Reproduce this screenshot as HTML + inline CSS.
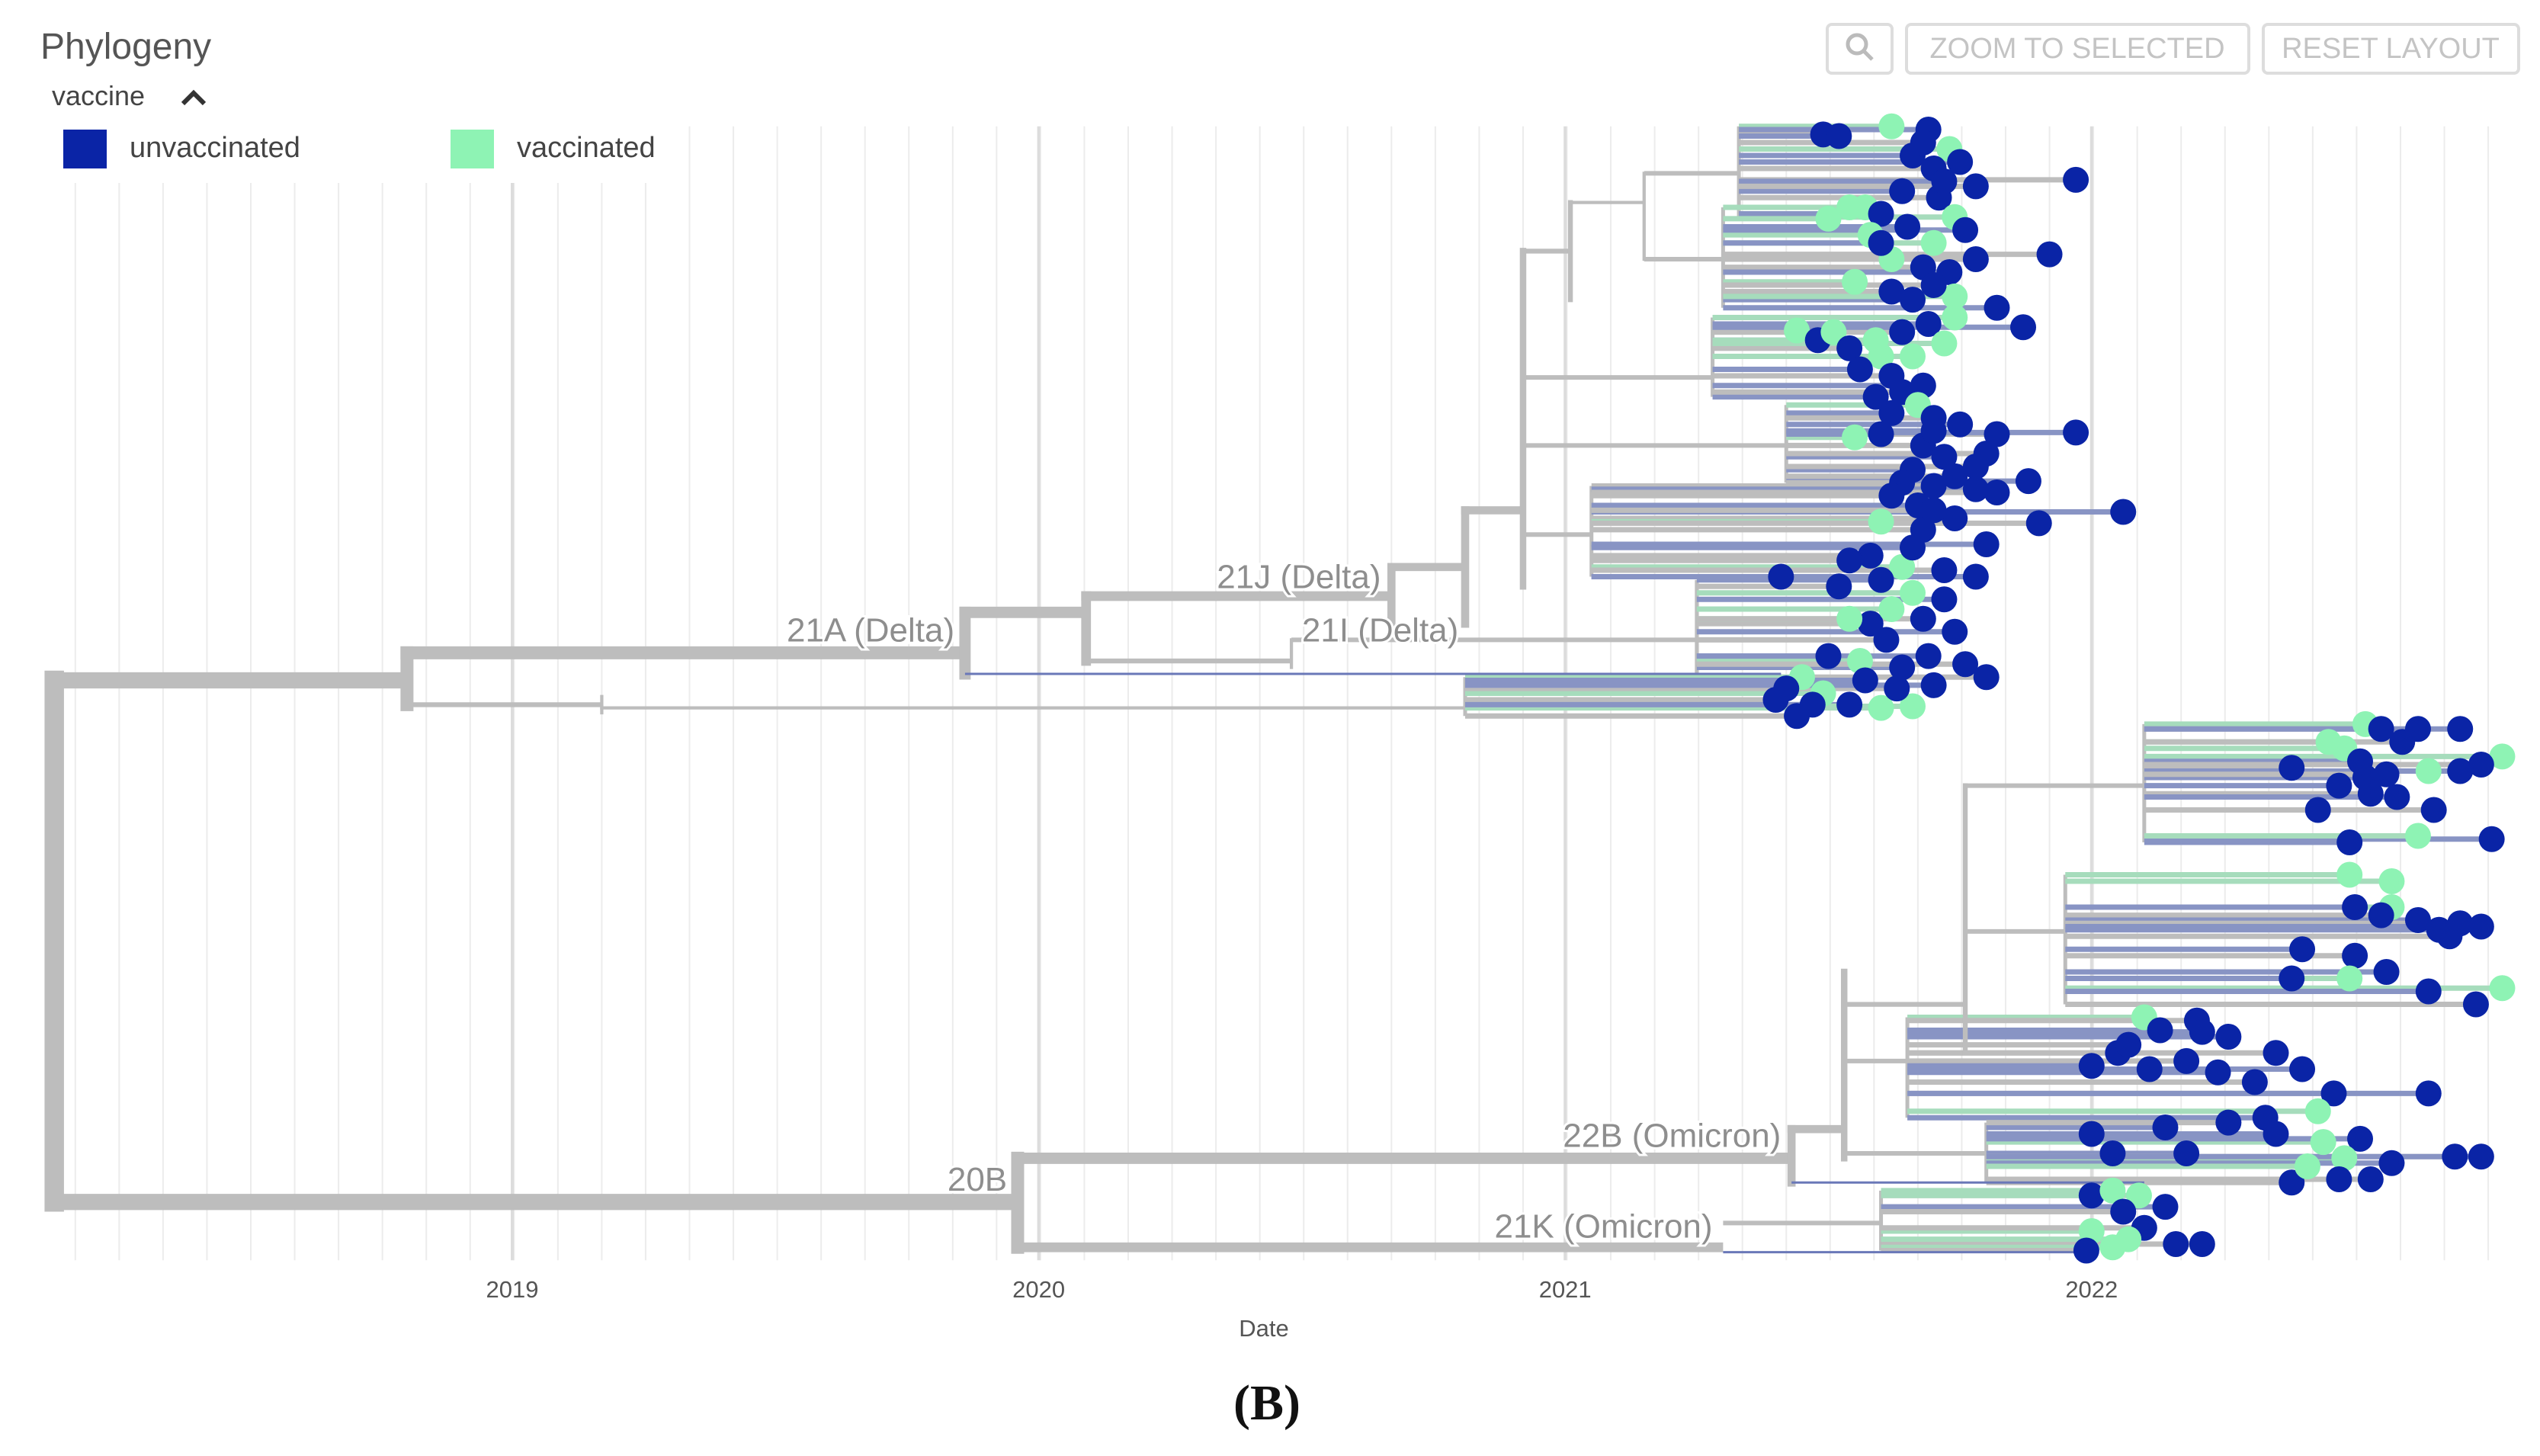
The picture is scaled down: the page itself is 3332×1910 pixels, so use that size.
<!DOCTYPE html>
<html><head><meta charset="utf-8"><style>
html,body{margin:0;padding:0;background:#fff;}
svg{display:block;font-family:"Liberation Sans",sans-serif;}
</style></head><body>
<svg id="chart" width="3332" height="1910" viewBox="0 0 3332 1910" xmlns="http://www.w3.org/2000/svg">
<g id="grid"></g>
<g id="tree"></g>
<g id="tips"></g>
<g id="labels"></g>
<g id="axis"></g>
<text x="1658" y="1753" font-size="31" fill="#555" text-anchor="middle">Date</text>
<text x="1662" y="1862" font-size="66" font-weight="bold" fill="#111" text-anchor="middle" font-family="Liberation Serif,serif">(B)</text>
<rect x="0" y="100" width="900" height="140" fill="#fff"/>
<text x="53" y="77" font-size="48" fill="#555">Phylogeny</text>
<text x="68" y="138" font-size="36" fill="#444">vaccine</text>
<path d="M240 136 L254 122 L268 136" stroke="#333" stroke-width="6" fill="none"/>
<rect x="83" y="170" width="57" height="51" fill="#0a24a6"/>
<text x="170" y="206" font-size="38" fill="#444">unvaccinated</text>
<rect x="591" y="170" width="57" height="51" fill="#8ef3b4"/>
<text x="678" y="206" font-size="38" fill="#444">vaccinated</text>
<rect x="2397" y="32" width="85" height="64" rx="6" fill="#fff" stroke="#ddd" stroke-width="4"/>
<circle cx="2436" cy="58" r="12" fill="none" stroke="#bbb" stroke-width="5"/>
<line x1="2445" y1="67" x2="2456" y2="78" stroke="#bbb" stroke-width="5"/>
<rect x="2501" y="32" width="449" height="64" rx="6" fill="#fff" stroke="#ddd" stroke-width="4"/>
<text x="2725" y="76" font-size="38" fill="#c4c4c4" text-anchor="middle">ZOOM TO SELECTED</text>
<rect x="2969" y="32" width="335" height="64" rx="6" fill="#fff" stroke="#ddd" stroke-width="4"/>
<text x="3136" y="76" font-size="38" fill="#c4c4c4" text-anchor="middle">RESET LAYOUT</text>
</svg>
<script>
// ---- data ----
const yearTicks = [2019, 2020, 2021, 2022];
const tickLabels = ["2019", "2020", "2021", "2022"];
const monthStart = 2018.17, monthEnd = 2022.80;
// backbone horizontals: [fromDate, toDate, y, width]
const backboneH = [
 [2018.13,2018.80,420,10],[2018.80,2019.86,403,8],[2019.86,2020.09,378,7],[2020.09,2020.67,368,6],
 [2020.67,2020.81,350,5],[2020.81,2020.92,315,5],[2020.92,2021.01,155,3],[2021.01,2021.15,125,2],
 [2020.09,2020.48,408,3],[2018.80,2019.17,435,3],[2019.17,2020.81,437,2],
 [2018.13,2019.96,742,10],[2019.96,2021.43,715,7],[2021.43,2021.53,697,5],[2021.53,2021.76,620,3],
 [2019.96,2021.30,770,6]
];
// backbone verticals: [date, y1, y2, width]
const backboneV = [
 [2018.13,420,742,12],[2018.80,403,435,8],[2019.86,378,416,7],[2020.09,368,408,6],[2020.67,350,386,5],
 [2020.81,315,385,5],[2020.92,155,362,4],[2021.01,125,185,3],[2021.15,107,160,2],[2020.48,395,412,2],
 [2019.17,430,440,2],[2019.96,715,770,8],[2021.43,697,730,5],[2021.53,600,715,4],[2021.76,485,650,3]
];
// thin coloured stems: [fromDate, toDate, y]
const thinStems = [[2019.86,2021.41,416],[2021.30,2021.99,773],[2021.43,2022.10,730]];
// clade groups: parent date, node date, attach y
const groupParent = [2021.15,2021.15,2020.92,2020.92,2020.92,2020.48,2020.81,2021.76,2021.76,2021.53,2021.53,2021.30];
const groupNode   = [2021.33,2021.30,2021.28,2021.42,2021.05,2021.25,2020.81,2022.10,2021.95,2021.65,2021.80,2021.60];
const groupAttach = [107,160,233,275,330,395,432,485,575,655,712,755];
// tips per group: [date, y, vaccinated]
const groupTips = [
 [[2021.49,83,0],[2021.52,84,0],[2021.62,78,1],[2021.69,80,0],[2021.73,92,1],[2021.66,96,0],[2021.70,104,0],[2021.75,100,0],[2021.97,111,0],[2021.64,118,0],[2021.71,122,0],[2021.57,128,1],[2021.74,134,1],[2021.60,132,0],[2021.68,88,0],[2021.72,112,0],[2021.78,115,0]],
 [[2021.50,135,1],[2021.54,128,1],[2021.58,145,1],[2021.65,140,0],[2021.70,150,1],[2021.76,142,0],[2021.92,157,0],[2021.62,160,1],[2021.68,165,0],[2021.73,168,0],[2021.78,160,0],[2021.55,174,1],[2021.62,180,0],[2021.66,185,0],[2021.74,183,1],[2021.82,190,0],[2021.70,176,0],[2021.60,150,0]],
 [[2021.44,204,1],[2021.48,210,0],[2021.51,205,1],[2021.59,210,1],[2021.64,205,0],[2021.69,200,0],[2021.74,196,1],[2021.87,202,0],[2021.54,215,0],[2021.60,220,1],[2021.66,220,1],[2021.56,228,0],[2021.62,232,0],[2021.68,238,0],[2021.72,212,1],[2021.59,245,0],[2021.64,242,0]],
 [[2021.67,250,1],[2021.62,255,0],[2021.70,258,0],[2021.75,262,0],[2021.82,268,0],[2021.97,267,0],[2021.55,270,1],[2021.60,268,0],[2021.68,275,0],[2021.72,282,0],[2021.80,280,0],[2021.66,290,0],[2021.78,288,0],[2021.88,297,0],[2021.64,298,0],[2021.70,266,0],[2021.74,294,0]],
 [[2021.70,300,0],[2021.78,302,0],[2021.82,304,0],[2022.06,316,0],[2021.62,306,0],[2021.67,312,0],[2021.74,320,0],[2021.60,322,1],[2021.68,327,0],[2021.80,336,0],[2021.58,343,0],[2021.64,350,1],[2021.72,352,0],[2021.41,356,0],[2021.54,346,0],[2021.78,356,0],[2021.90,323,0],[2021.66,338,0],[2021.70,315,0]],
 [[2021.52,362,0],[2021.60,358,0],[2021.66,366,1],[2021.72,370,0],[2021.58,385,0],[2021.54,382,1],[2021.68,382,0],[2021.74,390,0],[2021.61,395,0],[2021.69,405,0],[2021.80,418,0],[2021.64,412,0],[2021.56,408,1],[2021.50,405,0],[2021.76,410,0],[2021.62,376,1]],
 [[2021.45,418,1],[2021.42,425,0],[2021.49,428,1],[2021.54,435,0],[2021.60,437,1],[2021.66,436,1],[2021.44,442,0],[2021.57,420,0],[2021.63,425,0],[2021.70,423,0],[2021.40,432,0],[2021.47,435,0]],
 [[2022.52,447,1],[2022.55,450,0],[2022.62,450,0],[2022.70,450,0],[2022.45,458,1],[2022.48,462,1],[2022.59,458,0],[2022.78,467,1],[2022.38,474,0],[2022.51,470,0],[2022.64,476,1],[2022.70,476,0],[2022.74,472,0],[2022.47,485,0],[2022.53,490,0],[2022.58,492,0],[2022.65,500,0],[2022.76,518,0],[2022.62,516,1],[2022.49,520,0],[2022.43,500,0],[2022.52,480,0],[2022.56,478,0]],
 [[2022.49,540,1],[2022.57,544,1],[2022.57,560,1],[2022.50,560,0],[2022.55,565,0],[2022.62,568,0],[2022.70,570,0],[2022.74,572,0],[2022.68,578,0],[2022.40,586,0],[2022.50,590,0],[2022.56,600,0],[2022.78,610,1],[2022.64,612,0],[2022.49,604,1],[2022.38,604,0],[2022.73,620,0],[2022.66,574,0]],
 [[2022.10,628,1],[2022.13,636,0],[2022.20,630,0],[2022.26,640,0],[2022.05,650,0],[2022.11,660,0],[2022.18,655,0],[2022.24,662,0],[2022.35,650,0],[2022.00,658,0],[2022.31,668,0],[2022.40,660,0],[2022.46,675,0],[2022.64,675,0],[2022.43,686,1],[2022.33,690,0],[2022.07,645,0],[2022.21,637,0]],
 [[2022.00,700,0],[2022.14,696,0],[2022.26,693,0],[2022.35,700,0],[2022.44,705,1],[2022.51,703,0],[2022.04,712,0],[2022.18,712,0],[2022.48,715,1],[2022.57,718,0],[2022.69,714,0],[2022.74,714,0],[2022.38,730,0],[2022.47,728,0],[2022.53,728,0],[2022.41,720,1]],
 [[2022.00,738,0],[2022.04,735,1],[2022.09,738,1],[2022.14,745,0],[2022.06,748,0],[2022.00,760,1],[2022.10,758,0],[2022.16,768,0],[2022.21,768,0],[2022.04,770,1],[2021.99,772,0],[2022.07,765,1]]
];
// clade labels: text, date (anchor), y, anchor
const cladeNames = ["21A (Delta)","21J (Delta)","21I (Delta)","20B","22B (Omicron)","21K (Omicron)"];
const cladeDates = [2019.84,2020.65,2020.50,2019.94,2021.41,2021.28];
const cladeY = [396,363,396,735,708,764];
const cladeAnchor = ["end","end","start","end","end","end"];

// ---- scales ----
const S = 2.125;
const X = d => 672 + (d - 2019) * 690.6;
const Y = v => v * S;
const NS = "http://www.w3.org/2000/svg";
function mk(tag, parent, attrs){const e=document.createElementNS(NS,tag);for(const k in attrs)e.setAttribute(k,attrs[k]);parent.appendChild(e);return e;}
const grid=document.getElementById('grid'),tree=document.getElementById('tree'),tips=document.getElementById('tips'),labels=document.getElementById('labels'),axis=document.getElementById('axis');

// grid
for(let m=0;;m++){const d=monthStart+m/12;if(d>monthEnd+1e-6)break;
 const l=mk('line',grid,{x1:X(d),x2:X(d),y1:Y(78),y2:Y(778),stroke:'#ececec','stroke-width':2});
 
 }
yearTicks.forEach((yr,i)=>{
 const l=mk('line',grid,{x1:X(yr),x2:X(yr),y1:Y(78),y2:Y(778),stroke:'#dcdcdc','stroke-width':4});
 
 
 const t=mk('text',axis,{x:X(yr),y:1702,'font-size':31,fill:'#555','text-anchor':'middle'});t.textContent=tickLabels[i];
 
 
});

const G='#bdbdbd';
// groups
groupTips.forEach((list,gi)=>{
 const p=groupParent[gi],n=groupNode[gi],a=groupAttach[gi];
 const ys=list.map(t=>t[1]);const y1=Math.min(...ys,a),y2=Math.max(...ys,a);
 const h=mk('line',tree,{x1:X(p),x2:X(n),y1:Y(a),y2:Y(a),stroke:G,'stroke-width':6});
 
 
 const v=mk('line',tree,{x1:X(n),x2:X(n),y1:Y(y1),y2:Y(y2),stroke:G,'stroke-width':5});
 
 
 list.forEach((t,ti)=>{
  const col=t[2]?'#a6dcbc':(ti%2?'#8894c4':G);
  const b=mk('line',tree,{x1:X(n),x2:X(t[0]),y1:Y(t[1]),y2:Y(t[1]),stroke:col,'stroke-width':7});
  
  
 });
});
backboneH.forEach(b=>{const l=mk('line',tree,{x1:X(b[0])-b[3]*S/2,x2:X(b[1]),y1:Y(b[2]),y2:Y(b[2]),stroke:G,'stroke-width':b[3]*S});
 
 });
backboneV.forEach(b=>{const l=mk('line',tree,{x1:X(b[0]),x2:X(b[0]),y1:Y(b[1])-b[3]*S/2,y2:Y(b[2])+b[3]*S/2,stroke:G,'stroke-width':b[3]*S});
 
 });
thinStems.forEach(b=>{const l=mk('line',tree,{x1:X(b[0]),x2:X(b[1]),y1:Y(b[2]),y2:Y(b[2]),stroke:'#6a78b8','stroke-width':3});
 
 });
// tips
groupTips.forEach(list=>list.forEach(t=>{
 const c=mk('circle',tips,{cx:X(t[0]),cy:Y(t[1]),r:17,fill:t[2]?'#8ef3b4':'#0a24a6'});
 
 
}));
// labels
cladeNames.forEach((nm,i)=>{
 const t=mk('text',labels,{x:X(cladeDates[i]),y:Y(cladeY[i]),'font-size':44,fill:'#8e8e8e','text-anchor':cladeAnchor[i],stroke:'#fff','stroke-width':6,'paint-order':'stroke'});
 t.textContent=nm;
 
 
});
</script>
</body></html>
